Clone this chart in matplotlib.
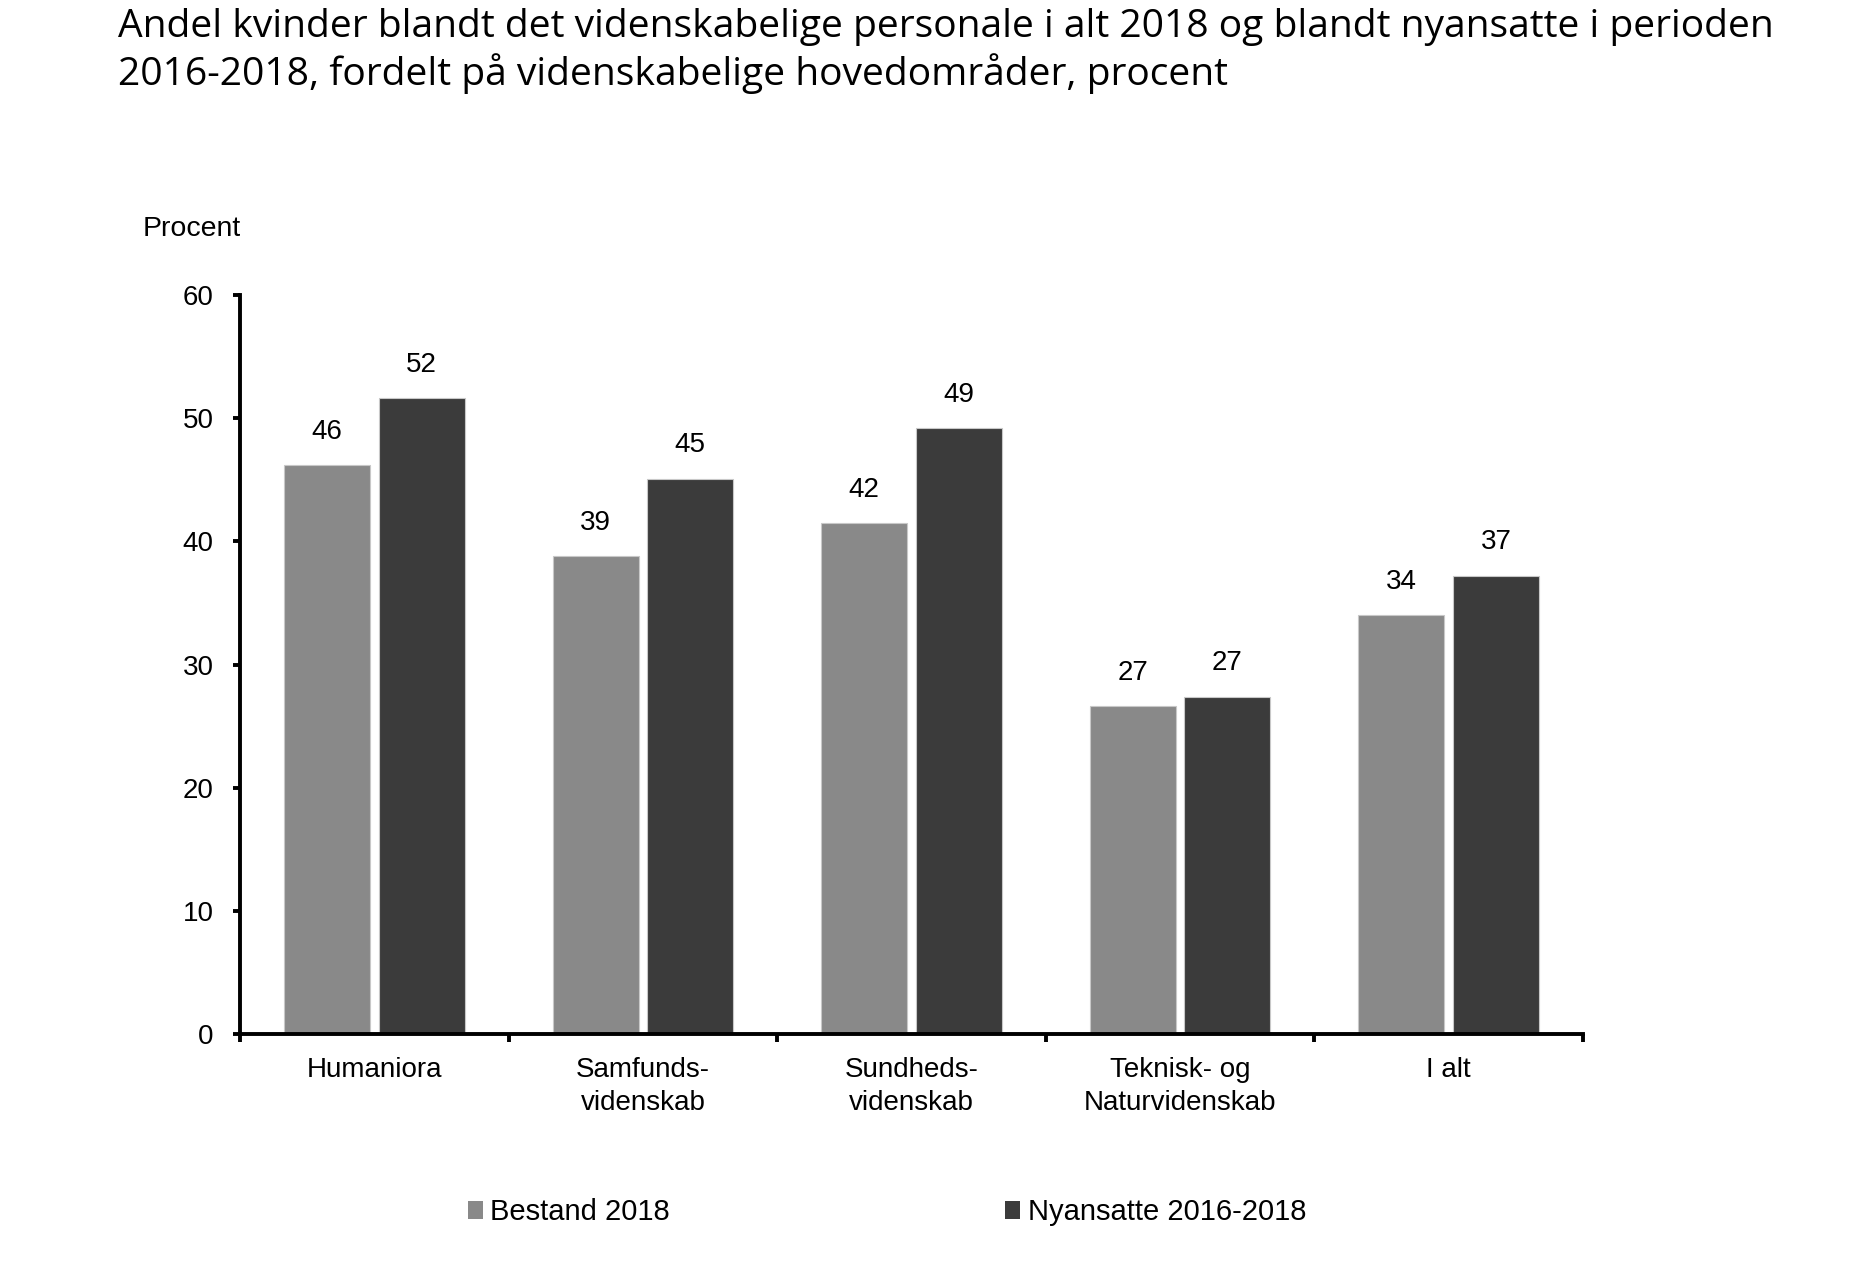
import matplotlib
matplotlib.use("Agg")
import matplotlib.pyplot as plt
import numpy as np
from matplotlib.patches import Patch

categories = ["Humaniora", "Samfunds-\nvidenskab", "Sundheds-\nvidenskab", "Teknisk- og\nNaturvidenskab", "I alt"]
bestand = [46.2, 38.8, 41.5, 26.6, 34.0]
nyansatte = [51.6, 45.1, 49.2, 27.4, 37.2]
bestand_labels = ["46", "39", "42", "27", "34"]
nyansatte_labels = ["52", "45", "49", "27", "37"]
series_names = ["Bestand 2018", "Nyansatte 2016-2018"]
yticks = [0, 10, 20, 30, 40, 50, 60]
title_lines = ["Andel kvinder blandt det videnskabelige personale i alt 2018 og blandt nyansatte i perioden",
               "2016-2018, fordelt på videnskabelige hovedområder, procent"]

c_gray = "#898989"
c_dark = "#3b3b3b"
FS = 20

plt.rcParams["font.family"] = ["Liberation Sans", "DejaVu Sans"]

W, H = 1856, 1287
fig = plt.figure(figsize=(W / 100, H / 100), dpi=100)
ax = fig.add_axes([240 / W, 1 - 1034 / H, (1583 - 240) / W, (1034 - 295) / H])

x = np.arange(len(categories))
w = 0.32
off = 0.176
b1 = ax.bar(x - off, bestand, w, color=c_gray, edgecolor="#c8c8c8", linewidth=0.8)
b2 = ax.bar(x + off, nyansatte, w, color=c_dark, edgecolor="#c8c8c8", linewidth=0.8)

for rects, labs in ((b1, bestand_labels), (b2, nyansatte_labels)):
    for r, lab in zip(rects, labs):
        ax.annotate(lab, (r.get_x() + r.get_width() / 2, r.get_height()),
                    xytext=(0, 24), textcoords="offset points",
                    ha="center", va="center", fontsize=FS)

ax.set_xlim(-0.5, len(categories) - 0.5)
ax.set_ylim(0, 60)
ax.set_yticks(yticks)
ax.set_yticklabels([str(t) for t in yticks], fontsize=FS)
ax.set_xticks(x)
ax.set_xticklabels(categories, fontsize=FS, linespacing=1.33, va="top")
ax.set_xticks(np.arange(len(categories) + 1) - 0.5, minor=True)
ax.tick_params(axis="x", which="major", length=0, pad=16.5)
ax.tick_params(axis="x", which="minor", length=6, width=2.8, direction="out")
ax.tick_params(axis="y", length=5, width=2.8, direction="out", pad=14)

for s in ("top", "right"):
    ax.spines[s].set_visible(False)
for s in ("left", "bottom"):
    ax.spines[s].set_linewidth(2.8)

fig.text(143 / W, 1 - 229 / H, "Procent", ha="left", va="center", fontsize=20.5)

# Title: fit first line to the target width
tfam = ["Open Sans", "DejaVu Sans"]
t1 = fig.text(118 / W, 1 - 37 / H, title_lines[0], ha="left", va="baseline", fontsize=25, family=tfam)
renderer = fig.canvas.get_renderer()
wpx = t1.get_window_extent(renderer).width
fs_t = 25 * (1777 - 118) / wpx
t1.set_fontsize(fs_t)
fig.text(118 / W, 1 - 85 / H, title_lines[1], ha="left", va="baseline", fontsize=fs_t, family=tfam)

handles = [Patch(facecolor=c_gray, edgecolor="none"), Patch(facecolor=c_dark, edgecolor="none")]
fig.legend(handles, series_names, loc="center left", bbox_to_anchor=(468 / W, 1 - 1212 / H),
           ncol=2, frameon=False, fontsize=21, handlelength=0.52, handleheight=0.57,
           handletextpad=0.24, columnspacing=11.5, borderaxespad=0, borderpad=0)

fig.savefig("out.png", dpi=100)
